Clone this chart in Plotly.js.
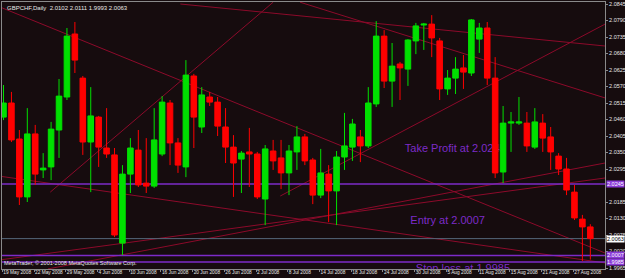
<!DOCTYPE html>
<html><head><meta charset="utf-8">
<script src="https://cdn.plot.ly/plotly-3.0.1.min.js"></script>
<style>html,body{margin:0;padding:0;background:#160c0e;}#chart{width:625px;height:278px;}</style>
</head><body><div id="chart"></div>
<script>
// ---- data (GBPCHF Daily, 19 May 2008 - 29 Aug 2008) ----
const openP  = [2.0468,2.0515,2.0395,2.0202,2.0412,2.0292,2.0302,2.0425,2.0535,2.0745,2.0598,2.0385,2.0468,2.0365,2.0342,2.0048,2.0278,2.0358,2.0248,2.0238,2.0345,2.0515,2.0382,2.0302,2.0605,2.0435,2.0535,2.0518,2.0435,2.0368,2.0328,2.0352,2.0345,2.0195,2.0355,2.0332,2.0282,2.0352,2.0402,2.0325,2.0208,2.0278,2.0222,2.0335,2.0368,2.0402,2.0372,2.0512,2.0738,2.0588,2.0645,2.0628,2.0722,2.0775,2.0778,2.0722,2.0562,2.0598,2.0632,2.0615,2.0728,2.0765,2.0598,2.0285,2.0448,2.0448,2.0448,2.0368,2.0448,2.0402,2.0338,2.0295,2.0218,2.0128,2.0102];
const highP  = [2.0575,2.0552,2.0425,2.0498,2.0442,2.0348,2.0452,2.0595,2.0765,2.0785,2.0605,2.0568,2.0472,2.0498,2.0365,2.0308,2.0398,2.0425,2.0398,2.0498,2.0538,2.0525,2.0398,2.0658,2.0612,2.0568,2.0552,2.0535,2.0498,2.0408,2.0355,2.0432,2.0352,2.0375,2.0392,2.0392,2.0375,2.0438,2.0412,2.0332,2.0362,2.0308,2.0355,2.0482,2.0462,2.0425,2.0568,2.0788,2.0758,2.0715,2.0652,2.0728,2.0782,2.0782,2.0808,2.0732,2.0625,2.0668,2.0675,2.0795,2.0782,2.0785,2.0668,2.0505,2.0485,2.0535,2.0485,2.0498,2.0478,2.0435,2.0348,2.0332,2.0242,2.0142,2.0111];
const lowP   = [2.0458,2.0385,2.0175,2.0185,2.0242,2.0265,2.0258,2.0332,2.0525,2.0615,2.0342,2.0218,2.0302,2.0332,2.0068,2.0008,2.0215,2.0235,2.0215,2.0232,2.0338,2.0308,2.0282,2.0268,2.0365,2.0415,2.0505,2.0405,2.0315,2.0202,2.0215,2.0235,2.0195,2.0108,2.0292,2.0228,2.0208,2.0292,2.0308,2.0178,2.0198,2.0118,2.0108,2.0292,2.0322,2.0318,2.0365,2.0502,2.0565,2.0502,2.0525,2.0572,2.0678,2.0692,2.0668,2.0525,2.0542,2.0545,2.0562,2.0605,2.0682,2.0575,2.0265,2.0248,2.0352,2.0442,2.0352,2.0362,2.0352,2.0292,2.0275,2.0208,2.0125,1.9988,1.9993];
const closeP = [2.0515,2.0392,2.0202,2.0412,2.0278,2.0298,2.0428,2.0538,2.0738,2.0658,2.0385,2.0472,2.0368,2.0345,2.0075,2.0278,2.0365,2.0242,2.0238,2.0392,2.0518,2.0382,2.0308,2.0608,2.0468,2.0542,2.0518,2.0438,2.0368,2.0315,2.0348,2.0345,2.0202,2.0362,2.0322,2.0282,2.0355,2.0402,2.0322,2.0208,2.0282,2.0222,2.0335,2.0372,2.0445,2.0372,2.0515,2.0738,2.0588,2.0638,2.0632,2.0725,2.0772,2.0778,2.0732,2.0562,2.0598,2.0628,2.0618,2.0792,2.0765,2.0598,2.0282,2.0448,2.0452,2.0452,2.0372,2.0452,2.0398,2.0352,2.0295,2.0225,2.0132,2.0102,2.0063];

const dateTickBars = [0,4,8,12,16,20,24,28,32,36,40,44,48,52,56,60,64,68,72];
const dateTickText = ['19 May 2008','22 May 2008','29 May 2008','4 Jun 2008','10 Jun 2008','16 Jun 2008','20 Jun 2008','26 Jun 2008','2 Jul 2008','8 Jul 2008','14 Jul 2008','18 Jul 2008','24 Jul 2008','30 Jul 2008','5 Aug 2008','11 Aug 2008','15 Aug 2008','21 Aug 2008','27 Aug 2008'];
const priceTicks = [2.0845,2.0790,2.0735,2.0680,2.0625,2.0570,2.0515,2.0460,2.0405,2.0350,2.0295,2.0185,2.0130,2.0075,2.0020,1.9965];

// horizontal levels
const levelPrices = [2.0245, 2.0007, 1.9985];
const bidPrice = 2.0063;

// chart text objects
const noteText  = ['Take Profit at 2.0245','Entry at 2.0007','Stop loss at 1.9985'];
const noteBar   = [50.6, 51.3, 52.0];
const notePrice = [2.0362, 2.0122, 1.9960];

// trend lines (bar index / price endpoints)
const trendX0 = [-0.45, 22.3, 34.0, 34.9, 5.6, 37.4, -0.45, -0.45];
const trendP0 = [2.0835, 2.0845, 2.0851, 2.0205, 1.9962, 2.0851, 2.0271, 1.9992];
const trendX1 = [75.85, 75.85, 5.9, 75.85, 75.85, 75.85, 75.85, 75.85];
const trendP1 = [2.0015, 2.0705, 2.0218, 2.0778, 2.0315, 2.0532, 1.9982, 2.0265];

const header = 'GBPCHF,Daily  2.0102 2.0111 1.9993 2.0063';
const footer = 'MetaTrader, \u00a9 2001-2008 MetaQuotes Software Corp.';

// ---- build ----
const xs = openP.map((_, i) => i);
const xRange = [-0.19, 75.85];
const yRange = [1.99617, 2.08517];
const purple = '#7d2bc8';
const fontFam = 'Liberation Sans, Arial, sans-serif';
const traces = [];

for (let k = 0; k < trendX0.length; k++) {
  traces.push({type:'scatter', mode:'lines', x:[trendX0[k], trendX1[k]], y:[trendP0[k], trendP1[k]],
    line:{color:'#8c0a2a', width:1}, hoverinfo:'skip', showlegend:false, xaxis:'x', yaxis:'y'});
}
levelPrices.forEach((p) => {
  traces.push({type:'scatter', mode:'lines', x:xRange, y:[p, p], line:{color:purple, width:1.5},
    hoverinfo:'skip', showlegend:false});
});
traces.push({type:'scatter', mode:'lines', x:xRange, y:[bidPrice, bidPrice], line:{color:'#55677a', width:1},
  hoverinfo:'skip', showlegend:false});
traces.push({type:'scatter', mode:'text', x:noteBar, y:notePrice, text:noteText, textposition:'middle right',
  textfont:{family:fontFam, size:11, color:purple}, cliponaxis:true,
  hoverinfo:'skip', showlegend:false});

traces.push({type:'candlestick', x:xs, open:openP, high:highP, low:lowP, close:closeP,
  xaxis:'x2', yaxis:'y2', whiskerwidth:0, line:{width:1},
  increasing:{line:{color:'#00e000', width:1}, fillcolor:'#00e000'},
  decreasing:{line:{color:'#ff0000', width:1}, fillcolor:'#ff0000'},
  hoverinfo:'skip', showlegend:false});

const annotations = [
  {xref:'paper', yref:'paper', x:0.005, y:0.995, xanchor:'left', yanchor:'top', text:header, showarrow:false,
   font:{family:fontFam, size:6, color:'#e8e8e8'}},
  {xref:'paper', yref:'paper', x:0.0, y:0.0, xanchor:'left', yanchor:'bottom', yshift:1, text:footer, showarrow:false,
   font:{family:fontFam, size:5.5, color:'#e8e8e8'}}
];
levelPrices.concat([bidPrice]).forEach((p, k) => {
  const isBid = k === levelPrices.length;
  annotations.push({xref:'paper', yref:'y', x:1, y:p, xanchor:'left', yanchor:'middle', xshift:1,
    text:p.toFixed(4), showarrow:false, bgcolor:isBid ? '#ffffff' : '#8a3ad8', borderpad:0,
    font:{family:fontFam, size:5.5, color:isBid ? '#000000' : '#ffffff'}});
});

const layout = {
  width:625, height:278,
  margin:{l:2, r:20, t:2, b:9},
  paper_bgcolor:'#160c0e', plot_bgcolor:'#160c0e',
  showlegend:false,
  boxgap:0.3, boxgroupgap:0,
  xaxis:{range:xRange, showgrid:false, zeroline:false, showline:true, linecolor:'#8a8a8a', linewidth:1, mirror:true,
    tickmode:'array', tickvals:dateTickBars.map(v => v - 0.15), ticktext:dateTickText, tickangle:0,
    ticks:'outside', ticklen:2, tickcolor:'#8a8a8a', tickfont:{family:fontFam, size:4.8, color:'#e8e8e8'},
    ticklabelposition:'outside right', ticklabelstandoff:-2, fixedrange:true},
  yaxis:{range:yRange, side:'right', showgrid:false, zeroline:false, showline:true, linecolor:'#8a8a8a', linewidth:1, mirror:true,
    tickmode:'array', tickvals:priceTicks, ticktext:priceTicks.map(v => v.toFixed(4)),
    ticks:'outside', ticklen:2, tickcolor:'#8a8a8a', tickfont:{family:fontFam, size:5.5, color:'#e8e8e8'}, fixedrange:true},
  xaxis2:{overlaying:'x', range:xRange, visible:false, rangeslider:{visible:false}, fixedrange:true},
  yaxis2:{overlaying:'y', range:yRange, visible:false, fixedrange:true},
  annotations:annotations
};
Plotly.newPlot('chart', traces, layout, {staticPlot:true, displayModeBar:false});
</script></body></html>
